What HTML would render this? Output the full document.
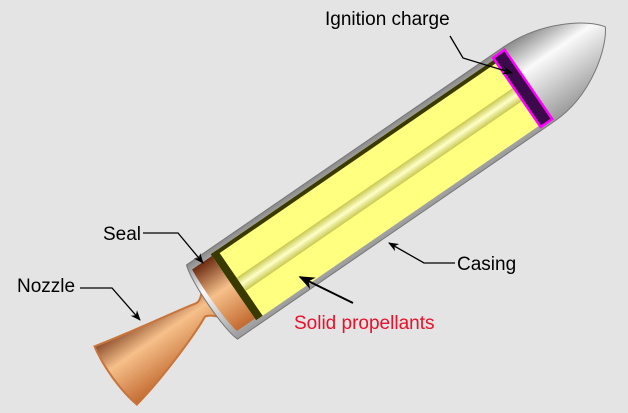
<!DOCTYPE html>
<html><head><style>html,body{margin:0;padding:0;background:#e4e4e4}svg{display:block}</style></head>
<body>
<svg width="628" height="413" viewBox="0 0 628 413" xmlns="http://www.w3.org/2000/svg">
<defs>
<linearGradient id="grey" x1="0" y1="0" x2="0" y2="1">
<stop offset="0" stop-color="#8a8a8a"/><stop offset="0.35" stop-color="#fafafa"/><stop offset="1" stop-color="#9a9a9a"/></linearGradient>
<linearGradient id="cop" x1="0" y1="0" x2="0" y2="1">
<stop offset="0" stop-color="#6a2a10"/><stop offset="0.45" stop-color="#f6c08a"/><stop offset="1" stop-color="#c26a30"/></linearGradient>
<linearGradient id="tube" x1="0" y1="0" x2="0" y2="1">
<stop offset="0" stop-color="#c8c850"/><stop offset="0.5" stop-color="#ffffc8"/><stop offset="1" stop-color="#c8c850"/></linearGradient>
<marker id="ar" viewBox="0 0 10 10" refX="9" refY="5" markerWidth="8" markerHeight="8" orient="auto"><path d="M0,1 L10,5 L0,9 L3,5z" fill="#000"/></marker>
</defs>
<rect width="628" height="413" fill="#e4e4e4"/>
<g transform="translate(212,302) rotate(-34.5)">
  <!-- nozzle -->
  <path d="M-122,-30 C-80,-20 -30,-12 -14,-8 C-4,-6 5,-30 26,-38 L26,38 C5,30 -4,10 -14,8 C-30,16 -80,34 -120,42 C-126,20 -126,-10 -122,-30 Z" fill="url(#cop)" stroke="#c8743a" stroke-width="2"/>
  <!-- casing -->
  <path d="M0,-45 L385,-45 C430,-45 470,-20 480,-4 C470,14 430,45 385,45 L0,45 C-6,30 -6,-30 0,-45 Z" fill="url(#grey)" stroke="#777" stroke-width="1"/>
  <path d="M2,-38 L26,-38 L26,38 L4,38 C0,20 0,-20 2,-38Z" fill="url(#cop)"/>
  <!-- propellant -->
  <rect x="26" y="-40" width="350" height="80" fill="#ffff80"/>
  <rect x="26" y="-40" width="350" height="4" fill="#3a3a00"/>
  <rect x="26" y="-40" width="8" height="80" fill="#3a3a00"/>
  <rect x="34" y="-6" width="342" height="16" fill="url(#tube)"/>
  <!-- ignition -->
  <rect x="370" y="-42" width="14" height="84" fill="#3a0a4a" stroke="#ff00ff" stroke-width="2.5"/>
</g>
<!-- leaders -->
<g stroke="#000" stroke-width="1.3" fill="none">
<path d="M450,36 L463,58 L512,73" marker-end="url(#ar)"/>
<path d="M143,233 L178,233 L203,263" marker-end="url(#ar)"/>
<path d="M80,288 L112,288 L140,320" marker-end="url(#ar)"/>
<path d="M455,263 L424,263 L389,243" marker-end="url(#ar)"/>
<path d="M353,303 L300,277" stroke-width="2" marker-end="url(#ar)"/>
</g>
<g font-family="Liberation Sans, sans-serif" font-size="19" fill="#000">
<text x="325" y="25">Ignition charge</text>
<text x="103" y="240">Seal</text>
<text x="17" y="292">Nozzle</text>
<text x="457" y="270">Casing</text>
<text x="294" y="329" fill="#e8102a">Solid propellants</text>
</g>
</svg>
</body></html>
